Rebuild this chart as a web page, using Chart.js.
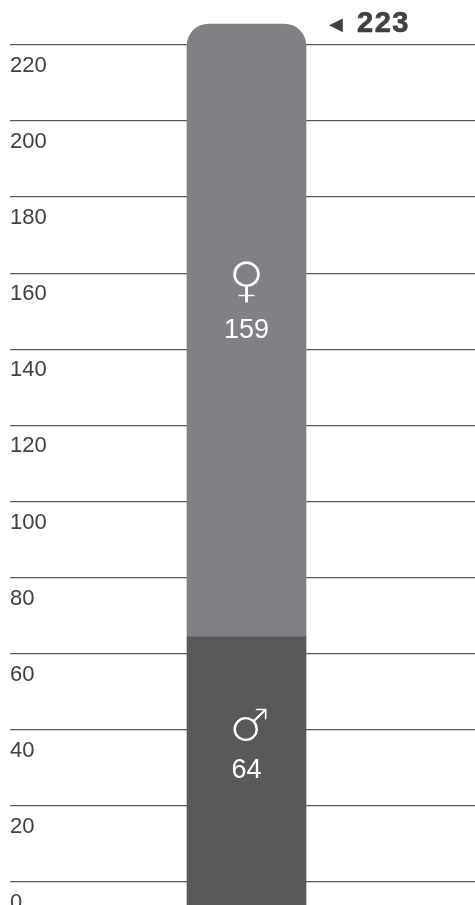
<!DOCTYPE html>
<html>
<head>
<meta charset="utf-8">
<script src="https://cdn.jsdelivr.net/npm/chart.js@4"></script>
<style>
  html, body { margin: 0; padding: 0; background: #fff; overflow: hidden; width: 475px; height: 905px; }
  #wrap { width: 483px; height: 905px; position: relative; }
</style>
</head>
<body>
<div id="wrap"><canvas id="genderChart"></canvas></div>
<script>
const categories = ['Total'];
const tickValues = [0, 20, 40, 60, 80, 100, 120, 140, 160, 180, 200, 220];
const femaleCount = 159;
const maleCount = 64;
const totalCount = 223;

// bar edges as drawn in the picture (the bar runs past the 0 line and is a bit taller than its labels)
const maleBar = [[-6.05, 64.6]];
const femaleBar = [[64.6, 225.5]];

const FEMALE_COLOR = '#808184';
const MALE_COLOR = '#58595b';
const TEXT_COLOR = '#414042';
const FONT = '"Liberation Sans", Arial, sans-serif';
const SYMBOLS = '"DejaVu Sans", sans-serif';

// white glyph, then an outline in the bar colour to make its strokes thinner
function drawSymbol(c, glyph, x, y, barColor) {
    c.fillStyle = '#fff';
    c.strokeStyle = barColor;
    c.lineWidth = 1.6;
    c.fillText(glyph, x, y);
    c.strokeText(glyph, x, y);
}

const barLabels = {
    id: 'barLabels',
    afterDatasetsDraw(chart) {
        const c = chart.ctx;
        const female = chart.getDatasetMeta(0).data[0];
        const male = chart.getDatasetMeta(1).data[0];
        const mid = el => (el.y + el.base) / 2;

        c.save();
        c.textAlign = 'center';
        c.textBaseline = 'middle';
        c.fillStyle = '#fff';

        c.font = '27px ' + FONT;
        c.fillText(femaleCount, female.x, mid(female));
        c.fillText(maleCount, male.x, mid(male));

        c.font = '50px ' + SYMBOLS;
        drawSymbol(c, '♀', female.x, mid(female) - 46, FEMALE_COLOR);
        c.font = '46px ' + SYMBOLS;
        drawSymbol(c, '♂', male.x + 3, mid(male) - 42, MALE_COLOR);

        // total, next to the top of the bar
        c.fillStyle = TEXT_COLOR;
        c.strokeStyle = TEXT_COLOR;
        c.lineWidth = 0.7;
        c.textAlign = 'left';
        c.font = '18px "DejaVu Sans", sans-serif';
        c.fillText('◀', 329, female.y + 1);
        c.font = 'bold 29px ' + FONT;
        c.letterSpacing = '1.5px';
        c.fillText(totalCount, 357, female.y + 0.5);
        c.strokeText(totalCount, 357, female.y + 0.5);
        c.restore();
    }
};

new Chart(document.getElementById('genderChart').getContext('2d'), {
    type: 'bar',
    data: {
        labels: categories,
        datasets: [
            {
                label: 'Female',
                data: femaleBar,
                backgroundColor: FEMALE_COLOR,
                borderRadius: { topLeft: 22, topRight: 22, bottomLeft: 0, bottomRight: 0 },
                borderSkipped: false,
                barThickness: 119,
                grouped: false
            },
            {
                label: 'Male',
                data: maleBar,
                backgroundColor: MALE_COLOR,
                barThickness: 119,
                grouped: false
            }
        ]
    },
    options: {
        responsive: true,
        maintainAspectRatio: false,
        animation: false,
        layout: { padding: { left: 10, right: 0, top: 0, bottom: 0 } },
        plugins: {
            legend: { display: false },
            tooltip: { enabled: false }
        },
        scales: {
            x: { display: false },
            y: {
                min: -6.05,
                max: 231.8,
                afterFit: scale => {
                    scale.width = 0;
                    scale.paddingTop = 0;
                    scale.paddingBottom = 0;
                },
                afterBuildTicks: scale => { scale.ticks = tickValues.map(v => ({ value: v })); },
                border: { display: false },
                grid: { color: MALE_COLOR, lineWidth: 1.3, drawTicks: false },
                ticks: {
                    mirror: true,
                    padding: 0,
                    labelOffset: 21,
                    color: TEXT_COLOR,
                    font: { family: FONT, size: 22 }
                }
            }
        }
    },
    plugins: [barLabels]
});
</script>
</body>
</html>
